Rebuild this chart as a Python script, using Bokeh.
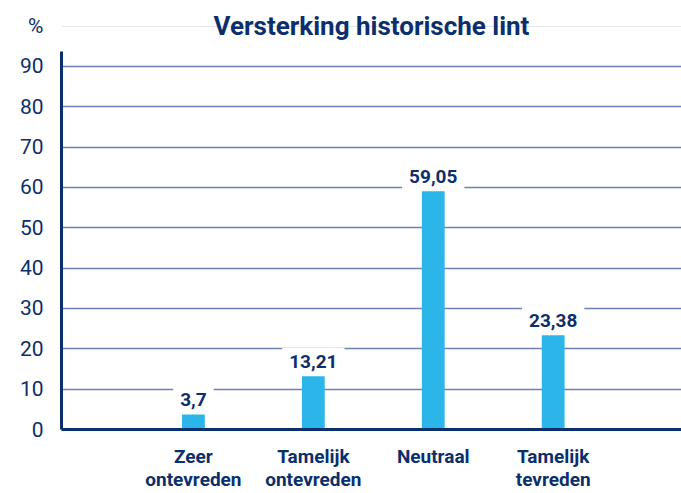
from bokeh.plotting import figure
from bokeh.models import FixedTicker, Label, ColumnDataSource, Range1d, LinearAxis, Grid
from bokeh.embed import file_html
from bokeh.resources import INLINE

# ---- data ----
categories = ["Zeer\nontevreden", "Tamelijk\nontevreden", "Neutraal", "Tamelijk\ntevreden"]
positions = [1, 2, 3, 4]
values = [3.7, 13.21, 59.05, 23.38]
value_labels = [str(v).replace(".", ",") for v in values]
y_ticks = [0, 10, 20, 30, 40, 50, 60, 70, 80, 90]
title_text = "Versterking historische lint"
unit_text = "%"

NAVY = "#0b2f6c"
BAR = "#2bb5e8"
GRID = "#6f81b4"
FONT = "Roboto"

Y_TOP = 93.7      # top of the drawn value axis
Y_HEAD = 100.1    # row of the "%" and the title

x0, x1 = -0.1, 5.07
p = figure(width=681, height=493, output_backend="svg", toolbar_location=None,
           x_range=Range1d(x0, x1), y_range=Range1d(0, 105.1),
           title_location=None, y_axis_location=None,
           min_border_left=61, min_border_right=0, min_border_top=5, min_border_bottom=63)

p.outline_line_color = None
p.background_fill_color = "white"
p.border_fill_color = "white"

src = ColumnDataSource(dict(x=positions, top=values))
p.vbar(x="x", top="top", width=0.19, source=src, color=BAR, line_color=None)

# x axis
p.xaxis.ticker = FixedTicker(ticks=positions)
p.xaxis.major_label_overrides = {pos: cat for pos, cat in zip(positions, categories)}
p.xaxis.axis_line_color = NAVY
p.xaxis.axis_line_width = 3
p.xaxis.major_tick_line_color = None
p.xaxis.major_tick_out = 0
p.xaxis.major_tick_in = 0
p.xaxis.minor_tick_line_color = None
p.xaxis.minor_tick_out = 0
p.xaxis.major_label_text_font = FONT
p.xaxis.major_label_text_font_style = "bold"
p.xaxis.major_label_text_font_size = "19px"
p.xaxis.major_label_text_color = NAVY
p.xaxis.major_label_text_line_height = 1.0
p.xaxis.major_label_standoff = 15
p.xgrid.grid_line_color = None

# y axis line (inner, no ticks), limited to the value range
line_axis = LinearAxis(ticker=FixedTicker(ticks=[]), bounds=(0, Y_TOP),
                       axis_line_color=NAVY, axis_line_width=3,
                       major_tick_out=0, major_tick_in=0, minor_tick_out=0, minor_tick_in=0,
                       major_tick_line_color=None, minor_tick_line_color=None)
p.add_layout(line_axis, "left")

# y tick labels (outer axis, no line); the "%" sits on top of the value ticks
label_axis = LinearAxis(ticker=FixedTicker(ticks=y_ticks + [Y_HEAD]),
                        major_label_overrides={Y_HEAD: unit_text},
                        axis_line_color=None,
                        major_tick_out=0, major_tick_in=0, minor_tick_out=0, minor_tick_in=0,
                        major_tick_line_color=None, minor_tick_line_color=None,
                        major_label_text_font=FONT, major_label_text_font_size="21px",
                        major_label_text_color=NAVY, major_label_standoff=18)
p.add_layout(label_axis, "left")

p.add_layout(Grid(dimension=1, ticker=FixedTicker(ticks=y_ticks[1:]),
                  grid_line_color=GRID, grid_line_width=1.5))

# value labels
for x, v, t in zip(positions, values, value_labels):
    p.add_layout(Label(x=x, y=v, text=t, text_align="center", text_baseline="middle",
                       y_offset=15, text_font=FONT, text_font_style="bold",
                       text_font_size="19px", text_color=NAVY,
                       background_fill_color="white", padding=7))

# title
p.add_layout(Label(x=(x0 + x1) / 2, y=Y_HEAD, text=title_text, text_align="center",
                   text_baseline="middle", text_font=FONT, text_font_style="bold",
                   text_font_size="26px", text_color=NAVY))

open("out.html", "w").write(file_html(p, INLINE))
